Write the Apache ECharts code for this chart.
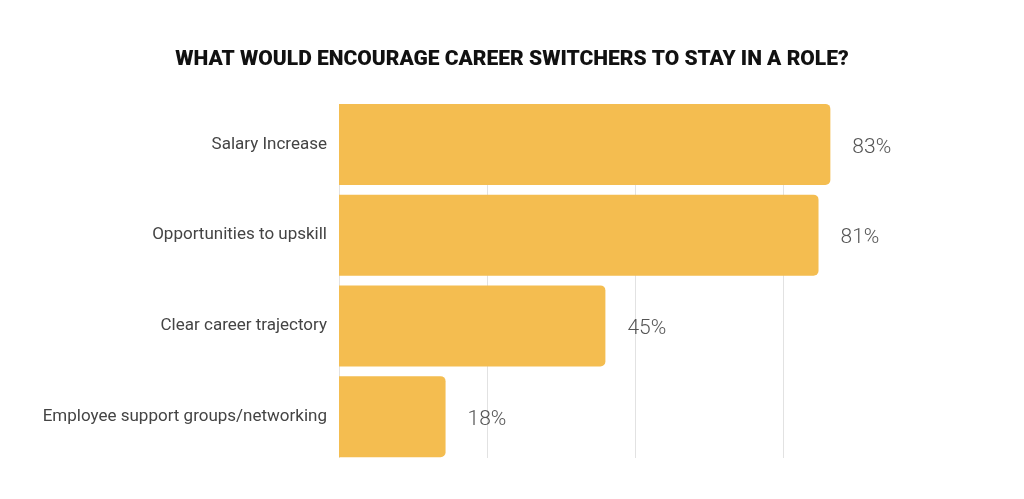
<!DOCTYPE html>
<html>
<head>
<meta charset="utf-8">
<script src="https://cdn.jsdelivr.net/npm/echarts@6/dist/echarts.min.js"></script>
<style>
html,body{margin:0;padding:0;background:#fff;}
#chart{width:1024px;height:499px;}
</style>
</head>
<body>
<div id="chart"></div>
<script>
const titleText = 'WHAT WOULD ENCOURAGE CAREER SWITCHERS TO STAY IN A ROLE?';
const categories = ['Salary Increase', 'Opportunities to upskill', 'Clear career trajectory', 'Employee support groups/networking'];
const values = [83, 81, 45, 18];
const axisMin = 0, axisMax = 100, axisInterval = 25;

const chart = echarts.init(document.getElementById('chart'), null, {renderer: 'canvas'});
const catsRev = categories.slice().reverse();
const valsRev = values.slice().reverse();

chart.setOption({
  animation: false,
  backgroundColor: '#ffffff',
  title: {
    text: titleText,
    left: 'center',
    top: 44,
    textStyle: {fontFamily: 'Roboto', fontWeight: 900, fontSize: 21, color: '#111111'}
  },
  grid: [
    {left: 339, right: 93, top: 104, bottom: 41, containLabel: false},
    {left: 339, right: 93, top: 99, bottom: 37, containLabel: false}
  ],
  xAxis: [
    {
      gridIndex: 0, type: 'value', min: axisMin, max: axisMax, interval: axisInterval,
      axisLine: {show: false}, axisTick: {show: false}, axisLabel: {show: false},
      splitLine: {show: true, showMaxLine: false, lineStyle: {color: '#e2e2e2', width: 1}}
    },
    {
      gridIndex: 1, type: 'value', min: axisMin, max: axisMax, interval: axisInterval,
      axisLine: {show: false}, axisTick: {show: false}, axisLabel: {show: false},
      splitLine: {show: false}
    }
  ],
  yAxis: [
    {
      gridIndex: 0, type: 'category', data: catsRev, show: false
    },
    {
      gridIndex: 1, type: 'category', data: catsRev,
      axisLine: {show: false}, axisTick: {show: false},
      axisLabel: {margin: 12, fontFamily: 'Roboto', fontSize: 17, color: '#444444', padding: [5, 0, 0, 0]}
    }
  ],
  series: [{
    type: 'bar',
    xAxisIndex: 1, yAxisIndex: 1,
    data: valsRev,
    barWidth: 81,
    itemStyle: {color: '#F4BD50', borderRadius: [0, 5, 5, 0]},
    label: {
      show: true, position: 'right', distance: 22, offset: [0, 3],
      formatter: '{c}%',
      fontFamily: 'Roboto', fontWeight: 300, fontSize: 21, color: '#555555'
    }
  }]
});
</script>
</body>
</html>
